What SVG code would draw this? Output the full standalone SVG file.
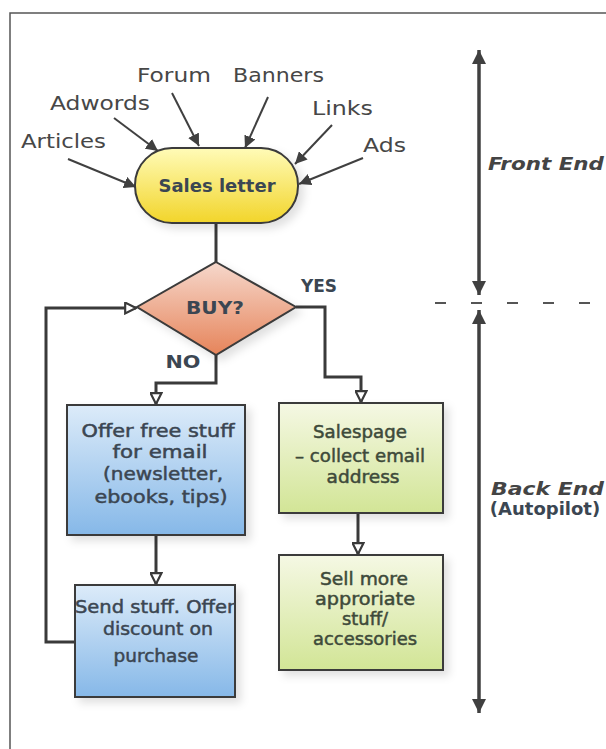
<svg xmlns="http://www.w3.org/2000/svg" width="606" height="749" viewBox="0 0 606 749">
<style>
.lbl{font-family:"DejaVu Sans","Liberation Sans",sans-serif;font-size:19px;fill:#474747}
.bx{font-family:"DejaVu Sans","Liberation Sans",sans-serif;font-size:18px;fill:#3b4652;text-anchor:middle;stroke:#3b4652;stroke-width:0.5}
.gt{fill:#3e4a3a;stroke:#3e4a3a}
.bold{font-weight:bold;stroke:none}
.side{font-family:"DejaVu Sans","Liberation Sans",sans-serif;font-weight:bold;font-style:italic;font-size:18px;fill:#444}
.node{stroke:#3a3a3a;stroke-width:2}
.src{stroke:#404040;stroke-width:2;fill:none;marker-end:url(#fill)}
.flow{stroke:#3a3a3a;stroke-width:3;fill:none}
</style>
<defs>
<linearGradient id="gy" x1="0" y1="0" x2="0" y2="1"><stop offset="0" stop-color="#fffbb8"/><stop offset="1" stop-color="#f2d52a"/></linearGradient>
<linearGradient id="gr" x1="0" y1="0" x2="0" y2="1"><stop offset="0" stop-color="#f6d8cc"/><stop offset="1" stop-color="#e6845a"/></linearGradient>
<linearGradient id="gb" x1="0" y1="0" x2="0" y2="1"><stop offset="0" stop-color="#dcebf9"/><stop offset="1" stop-color="#86b8e8"/></linearGradient>
<linearGradient id="gg" x1="0" y1="0" x2="0" y2="1"><stop offset="0" stop-color="#f5f8e4"/><stop offset="1" stop-color="#d2e596"/></linearGradient>
<filter id="sh" x="-20%" y="-20%" width="150%" height="150%"><feDropShadow dx="5" dy="5" stdDeviation="4" flood-color="#000" flood-opacity="0.12"/></filter>
<marker id="fill" viewBox="0 0 10 10" refX="10" refY="5" markerWidth="12" markerHeight="12" markerUnits="userSpaceOnUse" orient="auto"><path d="M0,0 L10,5 L0,10 z" fill="#404040"/></marker>
<marker id="big" viewBox="0 0 10 10" refX="10" refY="5" markerWidth="14" markerHeight="14" markerUnits="userSpaceOnUse" orient="auto"><path d="M0,0 L10,5 L0,10 z" fill="#404040"/></marker>
<marker id="hol" viewBox="0 0 12 12" refX="11" refY="6" markerWidth="13" markerHeight="13" markerUnits="userSpaceOnUse" orient="auto"><path d="M1,1 L11,6 L1,11 z" fill="#fff" stroke="#3a3a3a" stroke-width="2"/></marker>
</defs>
<rect width="606" height="749" fill="#fff"/>
<path d="M10,749 V13 H606" fill="none" stroke="#555" stroke-width="1.5"/>

<g id="sources">
<text class="lbl" x="137" y="82" textLength="74" lengthAdjust="spacingAndGlyphs">Forum</text>
<text class="lbl" x="233" y="82" textLength="91" lengthAdjust="spacingAndGlyphs">Banners</text>
<text class="lbl" x="50" y="110" textLength="100" lengthAdjust="spacingAndGlyphs">Adwords</text>
<text class="lbl" x="312" y="115" textLength="61" lengthAdjust="spacingAndGlyphs">Links</text>
<text class="lbl" x="21" y="148" textLength="85" lengthAdjust="spacingAndGlyphs">Articles</text>
<text class="lbl" x="363" y="152" textLength="43" lengthAdjust="spacingAndGlyphs">Ads</text>
</g>

<g id="connectors">
<line class="src" x1="172" y1="93" x2="199" y2="146"/>
<line class="src" x1="268" y1="97" x2="245" y2="148"/>
<line class="src" x1="114" y1="118" x2="158" y2="151"/>
<line class="src" x1="332" y1="125" x2="295" y2="164"/>
<line class="src" x1="68" y1="159" x2="136" y2="187"/>
<line class="src" x1="363" y1="158" x2="299" y2="184"/>
<path class="flow" d="M216,223 V262"/>
<path class="flow" d="M216,355 V383 H156 V404" marker-end="url(#hol)"/>
<path class="flow" d="M296,307 H325 V377 H361 V402" marker-end="url(#hol)"/>
<path class="flow" d="M156,535 V584" marker-end="url(#hol)"/>
<path class="flow" d="M358,513 V554" marker-end="url(#hol)"/>
<path class="flow" d="M75,642 H46 V308 H136" marker-end="url(#hol)"/>
</g>

<g id="salesletter">
<rect class="node" x="135" y="148" width="163" height="75" rx="37" fill="url(#gy)" filter="url(#sh)"/>
<text class="bx bold" x="217" y="192" font-size="17" fill="#333" textLength="117" lengthAdjust="spacingAndGlyphs">Sales letter</text>
</g>

<g id="buy">
<path class="node" d="M216,262 L296,307 L216,355 L137,307 Z" fill="url(#gr)" filter="url(#sh)"/>
<text class="bx bold" x="215" y="314" font-size="18" fill="#5a3a35" textLength="58" lengthAdjust="spacingAndGlyphs">BUY?</text>
<text class="bx bold" x="319" y="292" font-size="15" fill="#333" textLength="36" lengthAdjust="spacingAndGlyphs">YES</text>
<text class="bx bold" x="183" y="368" font-size="15" fill="#333" textLength="35" lengthAdjust="spacingAndGlyphs">NO</text>
</g>

<g id="offer">
<rect class="node" x="67" y="405" width="178" height="130" fill="url(#gb)" filter="url(#sh)"/>
<text class="bx" x="158" y="437" textLength="153" lengthAdjust="spacingAndGlyphs">Offer free stuff</text>
<text class="bx" x="160" y="458" textLength="95" lengthAdjust="spacingAndGlyphs">for email</text>
<text class="bx" x="163" y="480" textLength="120" lengthAdjust="spacingAndGlyphs">(newsletter,</text>
<text class="bx" x="161" y="503" textLength="133" lengthAdjust="spacingAndGlyphs">ebooks, tips)</text>
</g>

<g id="send">
<rect class="node" x="75" y="585" width="160" height="112" fill="url(#gb)" filter="url(#sh)"/>
<text class="bx" x="155" y="613" textLength="160" lengthAdjust="spacingAndGlyphs">Send stuff. Offer</text>
<text class="bx" x="158" y="635" textLength="110" lengthAdjust="spacingAndGlyphs">discount on</text>
<text class="bx" x="156" y="662" textLength="85" lengthAdjust="spacingAndGlyphs">purchase</text>
</g>

<g id="salespage">
<rect class="node" x="279" y="403" width="164" height="110" fill="url(#gg)" filter="url(#sh)"/>
<text class="bx gt" x="360" y="438" textLength="94" lengthAdjust="spacingAndGlyphs">Salespage</text>
<text class="bx gt" x="360" y="462" textLength="130" lengthAdjust="spacingAndGlyphs">– collect email</text>
<text class="bx gt" x="363" y="483" textLength="73" lengthAdjust="spacingAndGlyphs">address</text>
</g>

<g id="sellmore">
<rect class="node" x="279" y="555" width="164" height="115" fill="url(#gg)" filter="url(#sh)"/>
<text class="bx gt" x="364" y="585" textLength="88" lengthAdjust="spacingAndGlyphs">Sell more</text>
<text class="bx gt" x="365" y="605" textLength="100" lengthAdjust="spacingAndGlyphs">approriate</text>
<text class="bx gt" x="365" y="625" textLength="46" lengthAdjust="spacingAndGlyphs">stuff/</text>
<text class="bx gt" x="365" y="645" textLength="104" lengthAdjust="spacingAndGlyphs">accessories</text>
</g>

<g id="ends">
<line x1="479" y1="295" x2="479" y2="50" stroke="#404040" stroke-width="3" marker-end="url(#big)"/>
<line x1="479" y1="50" x2="479" y2="295" stroke="#404040" stroke-width="3" marker-end="url(#big)"/>
<line x1="479" y1="713" x2="479" y2="310" stroke="#404040" stroke-width="3" marker-end="url(#big)"/>
<line x1="479" y1="310" x2="479" y2="713" stroke="#404040" stroke-width="3" marker-end="url(#big)"/>
<line x1="435" y1="303" x2="606" y2="303" stroke="#555" stroke-width="2" stroke-dasharray="11 25"/>
<text class="side" x="488" y="170" textLength="116" lengthAdjust="spacingAndGlyphs">Front End</text>
<text class="side" x="491" y="495" textLength="113" lengthAdjust="spacingAndGlyphs">Back End</text>
<text class="bx bold" x="545" y="515" font-size="13" fill="#444">(Autopilot)</text>
</g>
</svg>
